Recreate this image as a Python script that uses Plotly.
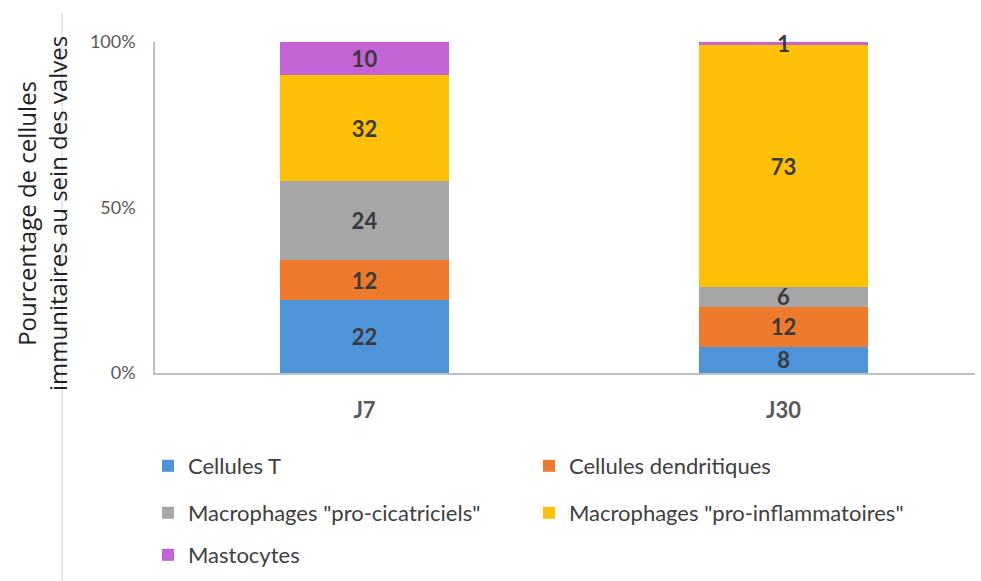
import plotly.graph_objects as go

categories = ["J7", "J30"]
series_names = ["Cellules T", "Cellules dendritiques", 'Macrophages "pro-cicatriciels"',
                'Macrophages "pro-inflammatoires"', "Mastocytes"]
cellules_t = [22, 8]
cellules_dendritiques = [12, 12]
macro_pro_cica = [24, 6]
macro_pro_infla = [32, 73]
mastocytes = [10, 1]
series_values = [cellules_t, cellules_dendritiques, macro_pro_cica, macro_pro_infla, mastocytes]
colors = ["#4F93D8", "#EE7A2C", "#A6A6A6", "#FFC108", "#C463D6"]
legend_ids = ["legend", "legend", "legend2", "legend2", "legend3"]
ytick_vals = [0, 50, 100]
ytick_text = ["0%", "50%", "100%"]

FONT = "Lato"
fig = go.Figure()
for name, vals, col, lg in zip(series_names, series_values, colors, legend_ids):
    fig.add_trace(go.Bar(
        x=categories, y=vals, name=name, marker=dict(color=col, line=dict(width=0)),
        text=[str(v) for v in vals], textposition="inside", insidetextanchor="middle",
        textangle=0, cliponaxis=False,
        textfont=dict(family=FONT, size=22, color="#3A3A3A", weight="bold"),
        legend=lg, constraintext="none",
    ))

W, H = 981, 581
L, R, T, B = 155, 6, 42, 208
pw = W - L - R
ph = H - T - B

def py(pix):
    return (H - B - pix) / ph

def px(pix):
    return (pix - L) / pw

leg_common = dict(orientation="h", entrywidth=336, entrywidthmode="pixels",
                  xanchor="left", yanchor="middle", traceorder="normal",
                  font=dict(family=FONT, size=22, color="#404040"),
                  bgcolor="rgba(0,0,0,0)")

fig.update_layout(
    width=W, height=H,
    margin=dict(l=L, r=R, t=T, b=B, autoexpand=False),
    barmode="stack", bargap=0.597,
    plot_bgcolor="white", paper_bgcolor="white",
    uniformtext=dict(mode="show", minsize=22),
    xaxis=dict(range=[-0.5, 1.457], showline=True, linecolor="#BFBFBF", linewidth=1.5,
               ticks="", ticklabelstandoff=17,
               tickfont=dict(family=FONT, size=22, color="#595959", weight="bold")),
    yaxis=dict(range=[0, 100], showline=True, linecolor="#BFBFBF", linewidth=1.5,
               showgrid=False, zeroline=False, tickvals=ytick_vals, ticktext=ytick_text,
               ticks="", ticklabelstandoff=14,
               tickfont=dict(family=FONT, size=18, color="#595959")),
    legend=dict(x=px(148), y=py(466), **leg_common),
    legend2=dict(x=px(148), y=py(513), **leg_common),
    legend3=dict(x=px(148), y=py(555), **leg_common),
    showlegend=True,
)

fig.add_annotation(
    text="Pourcentage de cellules<br>immunitaires au sein des valves",
    xref="paper", yref="paper", x=px(42), y=py(214), textangle=-90,
    showarrow=False, xanchor="center", yanchor="middle",
    font=dict(family="Open Sans", size=24, color="#222222"),
)
fig.add_shape(type="line", xref="paper", yref="paper", x0=px(62), x1=px(62),
              y0=py(13), y1=py(581), line=dict(color="#D0D0D0", width=1))

fig.write_html("out.html", post_script="document.body.style.margin='0';",
               config={"displayModeBar": False})
